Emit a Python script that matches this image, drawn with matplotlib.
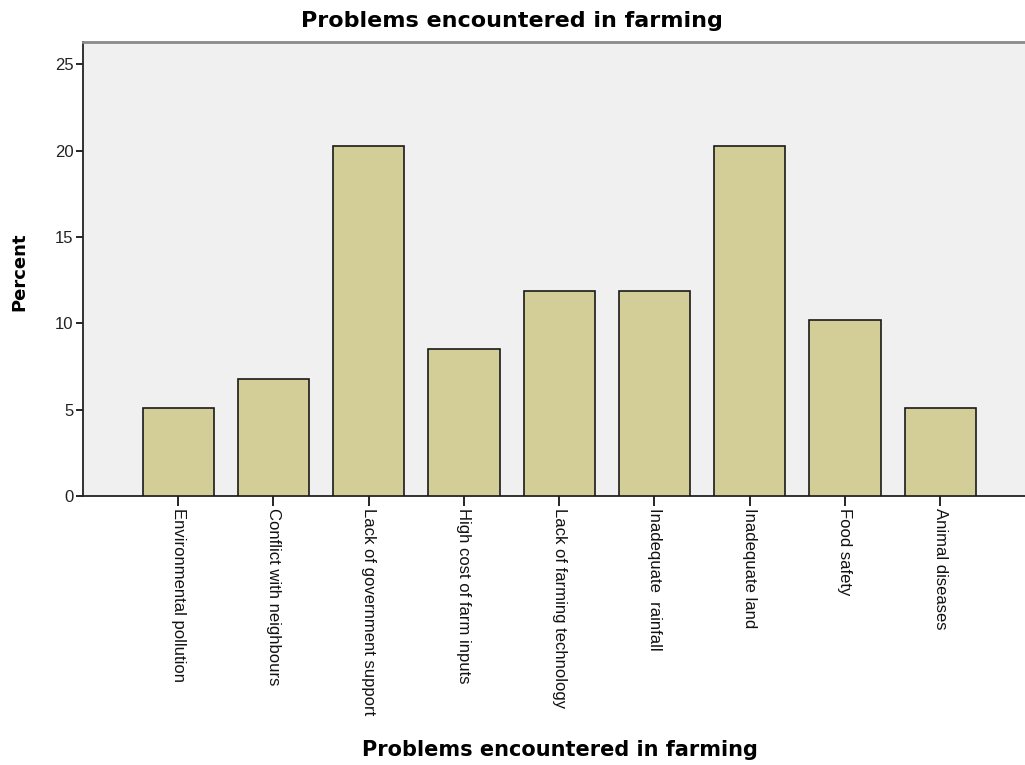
import matplotlib
matplotlib.use("Agg")
import matplotlib.pyplot as plt
import numpy as np

categories = [
    "Environmental pollution",
    "Conflict with neighbours",
    "Lack of government support",
    "High cost of farm inputs",
    "Lack of farming technology",
    "Inadequate  rainfall",
    "Inadequate land",
    "Food safety",
    "Animal diseases",
]
percent = [5.1, 6.8, 20.3, 8.5, 11.9, 11.9, 20.3, 10.2, 5.1]
yticks = [0, 5, 10, 15, 20, 25]

fig = plt.figure(figsize=(10.25, 7.65), dpi=100)
ax = fig.add_axes([83 / 1025, 1 - 496 / 765, 1 - 83 / 1025, (496 - 42) / 765])
ax.set_facecolor("#F0F0F0")

x = np.arange(len(categories))
ax.bar(x, percent, width=0.75, color="#D3CE97", edgecolor="#1A1A1A", linewidth=1.2, zorder=3)

ax.set_xlim(-1.0, 8.89)
ax.set_ylim(0, 26.3)
ax.set_yticks(yticks)
ax.set_yticklabels([str(t) for t in yticks], fontsize=12, family="Liberation Sans", color="#222222")
ax.set_xticks(x)
ax.set_xticklabels(categories, rotation=-90, ha="center", va="top", fontsize=12,
                   family="Liberation Sans", color="#111111")
ax.tick_params(axis="y", direction="out", length=5, width=1.2, pad=2)
ax.tick_params(axis="x", direction="out", length=7.5, width=1.2, pad=1)

for s in ["left", "bottom"]:
    ax.spines[s].set_color("#222222")
    ax.spines[s].set_linewidth(1.3)
ax.spines["top"].set_color("#8A8A8A")
ax.spines["top"].set_linewidth(2)
ax.spines["right"].set_visible(False)

fig.text(512 / 1025, 1 - 21 / 765, "Problems encountered in farming", ha="center", va="center",
         fontsize=16, fontweight="bold", family="DejaVu Sans")
fig.text(560 / 1025, 1 - 750 / 765, "Problems encountered in farming", ha="center", va="center",
         fontsize=15, fontweight="bold", family="DejaVu Sans")
fig.text(19 / 1025, 1 - 272 / 765, "Percent", ha="center", va="center", rotation=90,
         fontsize=13, fontweight="bold", family="DejaVu Sans")

fig.savefig("out.png", dpi=100)
